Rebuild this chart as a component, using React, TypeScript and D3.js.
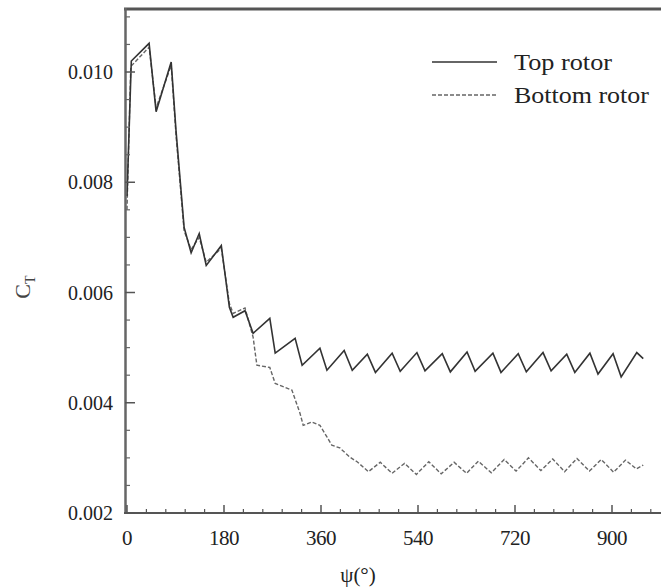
import { useEffect, useRef } from 'react';
import * as d3 from 'd3';

// azimuth (deg) and thrust coefficient
const topPsi = [0, 8, 41, 54, 82, 91, 106, 119, 134, 147, 175, 190, 197, 219, 234, 265, 275, 312, 325, 358, 371, 403, 418, 446, 461, 492, 507, 538, 553, 585, 600, 631, 646, 679, 694, 726, 741, 772, 787, 816, 831, 859, 874, 902, 917, 946, 958];
const topCt = [0.00775, 0.0102, 0.01052, 0.00928, 0.01018, 0.00893, 0.00718, 0.00672, 0.00707, 0.00649, 0.00685, 0.00573, 0.00555, 0.00567, 0.00526, 0.00553, 0.0049, 0.00517, 0.00468, 0.00499, 0.00459, 0.00495, 0.00459, 0.00488, 0.00455, 0.0049, 0.00457, 0.00491, 0.00458, 0.00489, 0.00456, 0.00492, 0.00457, 0.0049, 0.00455, 0.00489, 0.00456, 0.00491, 0.00458, 0.00488, 0.00455, 0.0049, 0.00452, 0.00489, 0.00447, 0.00491, 0.0048];

const bottomPsi = [0, 7, 41, 54, 82, 91, 106, 119, 134, 147, 175, 190, 197, 219, 234, 241, 265, 275, 306, 321, 327, 343, 358, 371, 380, 395, 414, 427, 448, 470, 492, 515, 537, 560, 583, 607, 630, 652, 676, 700, 722, 745, 768, 790, 812, 835, 858, 880, 903, 925, 945, 958];
const bottomCt = [0.0075, 0.0101, 0.01045, 0.00935, 0.01012, 0.00885, 0.00712, 0.00678, 0.007, 0.00655, 0.0068, 0.0058, 0.00562, 0.00572, 0.00519, 0.00468, 0.00464, 0.00435, 0.00423, 0.00381, 0.00359, 0.00365, 0.00359, 0.00338, 0.00323, 0.00318, 0.00301, 0.00293, 0.00275, 0.00292, 0.00272, 0.0029, 0.0027, 0.00293, 0.00271, 0.00292, 0.00272, 0.00294, 0.00273, 0.00297, 0.00276, 0.003, 0.00277, 0.00298, 0.00275, 0.00299, 0.00276, 0.00297, 0.00274, 0.00296, 0.0028, 0.00287];

const xTicks = [0, 180, 360, 540, 720, 900];
const xMinor = d3.range(36, 990, 36);
const yTicks = [0.002, 0.004, 0.006, 0.008, 0.01];
const yMinor = d3.range(0.0025, 0.0112, 0.0005);

const legendItems = [
  { name: 'Top rotor', dash: null, len: 98 },
  { name: 'Bottom rotor', dash: '4,2', len: 135 },
];

const W = 663;
const H = 587;
const FONT = '"Liberation Serif", "DejaVu Serif", serif';

export default function App() {
  const svgRef = useRef<SVGSVGElement>(null);

  useEffect(() => {
    if (!svgRef.current) return;
    const svg = d3.select(svgRef.current);
    svg.selectAll('*').remove();

    const x = d3.scaleLinear().domain([0, 990]).range([127, 660.5]);
    const y = d3.scaleLinear().domain([0.002, 0.011143]).range([513, 9]);

    svg.append('rect').attr('width', W).attr('height', H).attr('fill', '#fff');

    // curves
    const line = d3.line<[number, number]>()
      .x(d => x(d[0]))
      .y(d => y(d[1]));

    const top = topPsi.map((p, i) => [p, topCt[i]] as [number, number]);
    const bottom = bottomPsi.map((p, i) => [p, bottomCt[i]] as [number, number]);

    svg.append('path')
      .datum(bottom)
      .attr('fill', 'none')
      .attr('stroke', '#666')
      .attr('stroke-width', 1.4)
      .attr('stroke-dasharray', '4,2')
      .attr('d', line);

    svg.append('path')
      .datum(top)
      .attr('fill', 'none')
      .attr('stroke', '#333')
      .attr('stroke-width', 1.6)
      .attr('d', line);

    // axes frame
    svg.append('line')
      .attr('x1', 124).attr('x2', 661).attr('y1', 9).attr('y2', 9)
      .attr('stroke', '#555').attr('stroke-width', 3);
    svg.append('line')
      .attr('x1', 125.5).attr('x2', 125.5).attr('y1', 8).attr('y2', 514)
      .attr('stroke', '#666').attr('stroke-width', 2.5);
    svg.append('line')
      .attr('x1', 124).attr('x2', 661).attr('y1', 513).attr('y2', 513)
      .attr('stroke', '#555').attr('stroke-width', 1.8);

    // x ticks (inward)
    const gx = svg.append('g');
    xTicks.forEach(t => {
      gx.append('line')
        .attr('x1', x(t)).attr('x2', x(t)).attr('y1', 513).attr('y2', 505)
        .attr('stroke', '#555').attr('stroke-width', 1.5);
      gx.append('text')
        .attr('x', x(t)).attr('y', 545)
        .attr('text-anchor', 'middle')
        .style('font-family', FONT).style('font-size', '21px').style('fill', '#222')
        .style('letter-spacing', '-0.5px')
        .text(t);
    });
    xMinor.filter(t => t % 180 !== 0).forEach(t => {
      gx.append('line')
        .attr('x1', x(t)).attr('x2', x(t)).attr('y1', 513).attr('y2', 509)
        .attr('stroke', '#555').attr('stroke-width', 1.2);
    });

    // y ticks (inward)
    const gy = svg.append('g');
    yTicks.forEach(t => {
      gy.append('line')
        .attr('x1', 125).attr('x2', 135).attr('y1', y(t)).attr('y2', y(t))
        .attr('stroke', '#555').attr('stroke-width', 1.5);
      gy.append('text')
        .attr('x', 113).attr('y', y(t) + 7)
        .attr('text-anchor', 'end')
        .attr('textLength', 45)
        .attr('lengthAdjust', 'spacingAndGlyphs')
        .style('font-family', FONT).style('font-size', '21px').style('fill', '#222')
        .text(d3.format('.3f')(t));
    });
    yMinor.filter(t => Math.abs((t * 1000) % 2) > 0.01).forEach(t => {
      gy.append('line')
        .attr('x1', 125).attr('x2', 130).attr('y1', y(t)).attr('y2', y(t))
        .attr('stroke', '#666').attr('stroke-width', 1.2);
    });

    // axis titles
    const yl = svg.append('text')
      .attr('transform', 'translate(30, 287) rotate(-90)')
      .attr('text-anchor', 'middle')
      .style('font-family', FONT).style('font-size', '22px').style('fill', '#444');
    yl.append('tspan').text('C');
    yl.append('tspan').attr('dy', 5).style('font-size', '14px').text('T');

    svg.append('text')
      .attr('x', 358).attr('y', 582)
      .attr('text-anchor', 'middle')
      .style('font-family', FONT).style('font-size', '21px').style('fill', '#222')
      .text('ψ(°)');

    // legend
    legendItems.forEach((item, i) => {
      const ly = 62 + i * 33;
      svg.append('line')
        .attr('x1', 432).attr('x2', 497).attr('y1', ly).attr('y2', ly)
        .attr('stroke', i === 0 ? '#333' : '#666')
        .attr('stroke-width', 1.6)
        .attr('stroke-dasharray', item.dash);
      svg.append('text')
        .attr('x', 514).attr('y', ly + 8)
        .attr('textLength', item.len)
        .attr('lengthAdjust', 'spacingAndGlyphs')
        .style('font-family', FONT).style('font-size', '23px').style('fill', '#222')
        .text(item.name);
    });
  }, []);

  return (
    <div style={{ position: 'absolute', left: 0, top: 0 }}>
      <svg ref={svgRef} width={W} height={H} />
    </div>
  );
}
